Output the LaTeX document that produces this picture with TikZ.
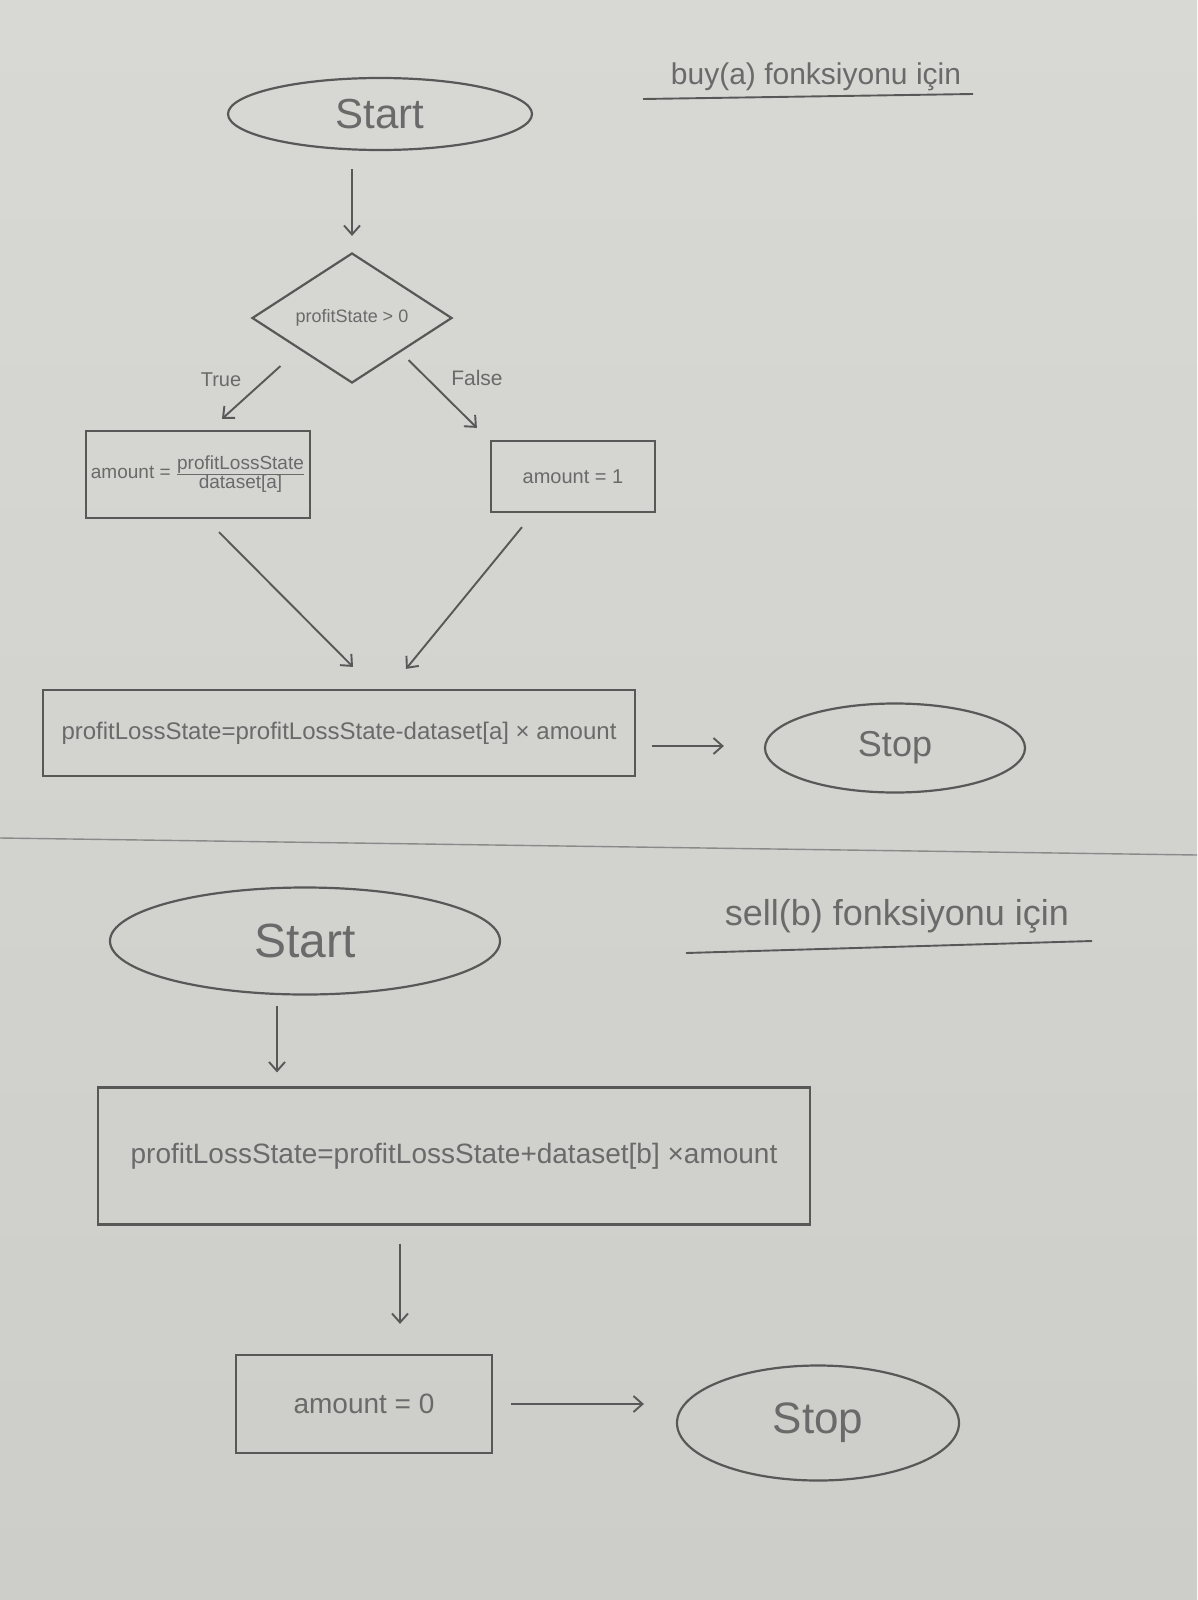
\documentclass[tikz,border=0pt]{standalone}
\usepackage{fontspec}
\setmainfont{Liberation Sans}
\usetikzlibrary{shapes.geometric,arrows.meta,calc}
\definecolor{paper}{HTML}{D8D8D5}
\definecolor{paperdark}{HTML}{CDCDCA}
\definecolor{pencil}{HTML}{585858}
\definecolor{pencilt}{HTML}{6A6A6A}
\newcommand{\fs}[1]{\fontsize{#1}{#1}\selectfont}
\begin{document}
\begin{tikzpicture}[x=1pt,y=-1pt,
  every node/.style={text=pencilt},
  box/.style={draw=pencil, line width=2.2pt, rectangle, inner sep=0pt},
  oval/.style={draw=pencil, line width=2.2pt, ellipse, inner sep=0pt},
  dia/.style={draw=pencil, line width=2.2pt, diamond, inner sep=0pt, shape aspect=1.54},
  arr/.style={draw=pencil, line width=1.9pt, -{Straight Barb[length=9pt,width=16pt]}},
  rule/.style={draw=pencil, line width=1.9pt}]
\useasboundingbox (0,0) rectangle (1197,1600);
\shade[top color=paper, bottom color=paperdark] (0,0) rectangle (1197,1600);

% ---------- buy(a) ----------
\node (title1) at (816,77) {\fs{30}buy(a) fonksiyonu için};
\draw[rule] (643,99) -- (973,94);

\node[oval, minimum width=304pt, minimum height=72pt] (start1) at (380,114) {\fs{42}Start};
\node[dia, minimum width=200pt, minimum height=130pt] (dec) at (352,318) {\fs{18}profitState > 0};
\node (ttrue) at (221,380) {\fs{20}True};
\node (tfalse) at (477,378) {\fs{21}False};
\node[box, minimum width=224pt, minimum height=87pt] (lbox) at (198,474.5)
  {\fs{19}amount = $\frac{\mbox{\fs{19}profitLossState}}{\mbox{\fs{19}dataset[a]}}$};
\node[box, minimum width=164pt, minimum height=71pt] (rbox) at (573,476.5)
  {\fs{20}amount = 1\hspace{44pt}};
\node[box, minimum width=592pt, minimum height=86pt] (big1) at (339,733)
  {\fs{24}profitLossState=profitLossState-dataset[a] × amount};
\node[oval, minimum width=260pt, minimum height=89pt] (stop1) at (895,748) {\fs{36}Stop};

\draw[arr] ($(start1.south)+(-28,18)$) -- ($(dec.north)+(0,-16)$);
\draw[arr] ($(dec.south west)+(-21,15)$) -- ($(lbox.north)+(24,-11)$);
\draw[arr] ($(dec.south east)+(6,9)$) -- ($(rbox.north west)+(-13,-12)$);
\draw[arr] ($(lbox.south)+(21,13)$) -- ($(big1.north)+(14,-22)$);
\draw[arr] ($(rbox.south)+(-51,14)$) -- ($(big1.north)+(67,-20)$);
\draw[arr] ($(big1.east)+(16,13)$) -- ($(stop1.west)+(-40,-2)$);

% separator
\draw[draw=pencil!70, line width=1.4pt] (0,838) -- (1197,855);

% ---------- sell(b) ----------
\node (title2) at (897,916) {\fs{36}sell(b) fonksiyonu için};
\draw[rule] (686,953) -- (1092,941);

\node[oval, minimum width=390pt, minimum height=107pt] (start2) at (305,941) {\fs{48}Start};
\node[box, minimum width=712pt, minimum height=137pt] (big2) at (454,1156)
  {\fs{28}profitLossState=profitLossState+dataset[b] ×amount};
\node[box, minimum width=256pt, minimum height=98pt] (amt0) at (364,1404)
  {\fs{28}amount = 0\hspace{50pt}};
\node[oval, minimum width=282pt, minimum height=115pt] (stop2) at (818,1423) {\fs{44}Stop};

\draw[arr] ($(start2.south)+(-28,10)$) -- ($(big2.north)+(-177,-14)$);
\draw[arr] ($(big2.south)+(-54,18)$) -- ($(amt0.north)+(36,-30)$);
\draw[arr] ($(amt0.east)+(18,0)$) -- ($(stop2.west)+(-32,-19)$);
\end{tikzpicture}
\end{document}
